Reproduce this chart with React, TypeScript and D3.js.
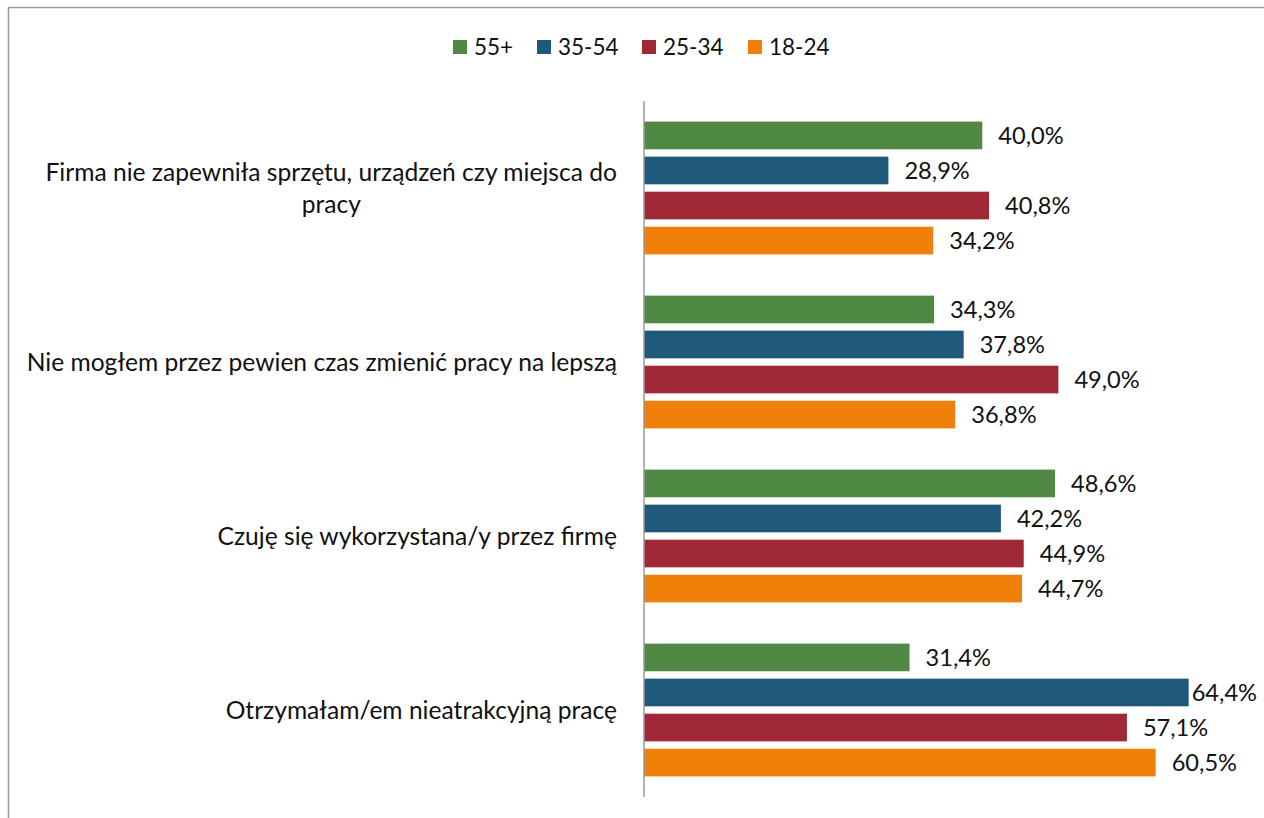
import React, { useEffect, useRef } from 'react';
import * as d3 from 'd3';

const categories = [
  'Firma nie zapewniła sprzętu, urządzeń czy miejsca do pracy',
  'Nie mogłem przez pewien czas zmienić pracy na lepszą',
  'Czuję się wykorzystana/y przez firmę',
  'Otrzymałam/em nieatrakcyjną pracę',
];
// wrapped the way the original shows it
const categoryLines = [
  ['Firma nie zapewniła sprzętu, urządzeń czy miejsca do', 'pracy'],
  ['Nie mogłem przez pewien czas zmienić pracy na lepszą'],
  ['Czuję się wykorzystana/y przez firmę'],
  ['Otrzymałam/em nieatrakcyjną pracę'],
];
const seriesNames = ['55+', '35-54', '25-34', '18-24'];
const seriesColors = ['#508943', '#1e587a', '#a02837', '#f0800a'];
const v55 = [40.0, 34.3, 48.6, 31.4];
const v35 = [28.9, 37.8, 42.2, 64.4];
const v25 = [40.8, 49.0, 44.9, 57.1];
const v18 = [34.2, 36.8, 44.7, 60.5];
const seriesValues = [v55, v35, v25, v18];

const W = 1264;
const H = 818;
const FONT = 'Lato, "Open Sans", sans-serif';
const FS_CAT = 24.6;
const FS_VAL = 23.6;
const FS_LEG = 22.5;

const App = () => {
  const svgRef = useRef<SVGSVGElement>(null);

  useEffect(() => {
    const svg = d3.select(svgRef.current);
    svg.selectAll('*').remove();

    // chart frame (runs off the right/bottom edge like the original)
    svg.append('rect')
      .attr('x', 8.5).attr('y', 7.5)
      .attr('width', W + 20).attr('height', H + 20)
      .attr('fill', '#fff')
      .attr('stroke', '#9a9a9a')
      .attr('stroke-width', 1.5);

    const x = d3.scaleLinear().domain([0, 70]).range([644, 1236]);
    const y0 = d3.scaleBand<number>().domain(d3.range(categories.length)).range([101, 797]);
    const y1 = d3.scaleBand<number>()
      .domain(d3.range(seriesNames.length))
      .range([20.6, y0.bandwidth() - 20.6])
      .paddingInner(0.21);

    const fmt = (v: number) => v.toFixed(1).replace('.', ',') + '%';

    const groups = svg.append('g').selectAll('g')
      .data(categories)
      .enter().append('g')
      .attr('transform', (d, i) => `translate(0,${y0(i)})`);

    groups.each(function (cat, ci) {
      const g = d3.select(this);
      seriesValues.forEach((vals, si) => {
        const v = vals[ci];
        const by = y1(si)!;
        g.append('rect')
          .attr('x', x(0))
          .attr('y', by)
          .attr('width', x(v) - x(0))
          .attr('height', y1.bandwidth())
          .attr('fill', seriesColors[si]);

        const t = g.append('text')
          .attr('x', x(v) + 16)
          .attr('y', by + y1.bandwidth() / 2)
          .attr('dy', '0.35em')
          .style('font-family', FONT)
          .style('font-size', FS_VAL + 'px')
          .style('fill', '#111')
          .text(fmt(v));
        const tw = (t.node() as SVGTextElement).getComputedTextLength();
        if (x(v) + 16 + tw > 1257) t.attr('x', Math.max(x(v) + 3, 1257 - tw));
      });

      // category label, lines centred on one another, block right edge at 617
      const lines = categoryLines[ci];
      const lh = 32;
      const cy = y0.bandwidth() / 2;
      const tmp = lines.map((ln) => {
        const t = g.append('text')
          .style('font-family', FONT)
          .style('font-size', FS_CAT + 'px')
          .style('fill', '#111')
          .attr('text-anchor', 'middle')
          .attr('dy', '0.35em')
          .text(ln);
        return t;
      });
      const maxW = d3.max(tmp, (t) => (t.node() as SVGTextElement).getComputedTextLength()) || 0;
      const centerX = 617 - maxW / 2;
      tmp.forEach((t, li) => {
        t.attr('x', centerX).attr('y', cy - ((lines.length - 1) * lh) / 2 + li * lh);
      });
    });

    // axis line
    svg.append('line')
      .attr('x1', 644).attr('x2', 644)
      .attr('y1', 101).attr('y2', 797)
      .attr('stroke', '#9a9a9a')
      .attr('stroke-width', 1.5);

    // legend
    const legendX = [453, 537, 642, 748];
    const lg = svg.append('g');
    seriesNames.forEach((name, i) => {
      lg.append('rect')
        .attr('x', legendX[i]).attr('y', 40)
        .attr('width', 14).attr('height', 14)
        .attr('fill', seriesColors[i]);
      lg.append('text')
        .attr('x', legendX[i] + 21).attr('y', 47)
        .attr('dy', '0.35em')
        .style('font-family', FONT)
        .style('font-size', FS_LEG + 'px')
        .style('fill', '#111')
        .text(name);
    });
  }, []);

  return (
    <svg
      ref={svgRef}
      width={W}
      height={H}
      style={{ position: 'absolute', left: 0, top: 0, display: 'block' }}
    />
  );
};

export default App;
